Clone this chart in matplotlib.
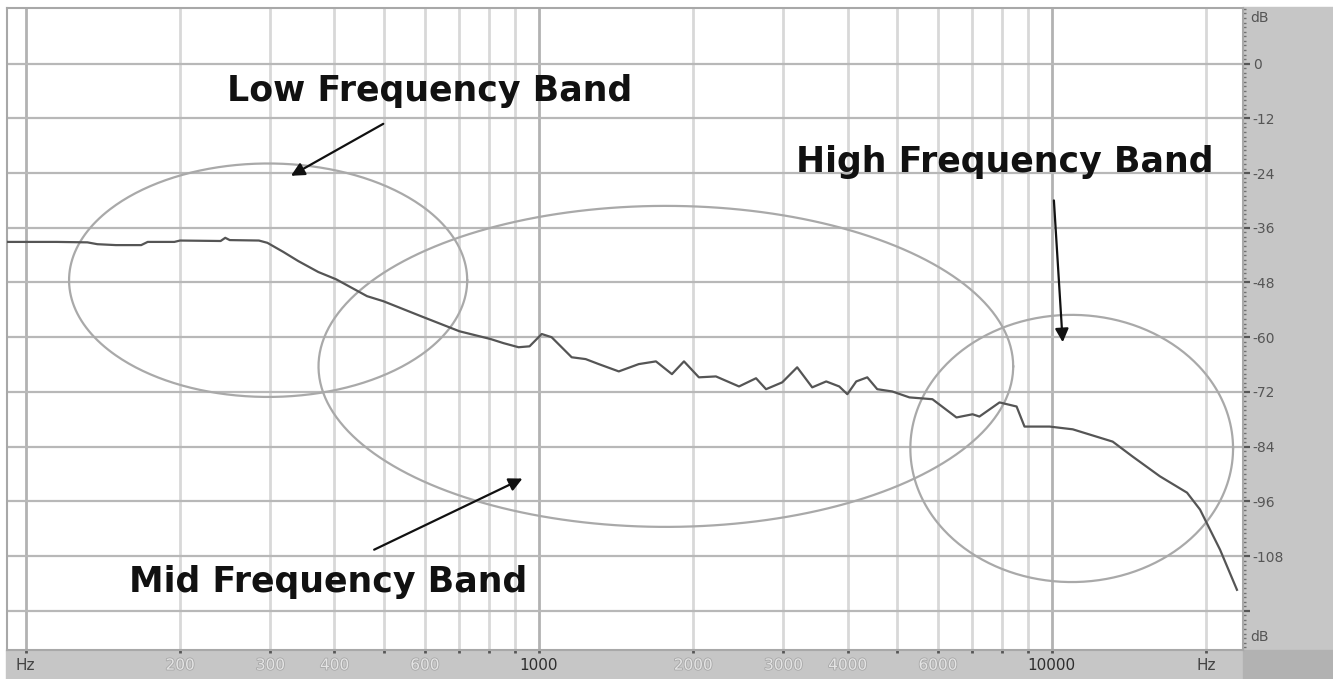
import matplotlib
matplotlib.use("Agg")
import matplotlib.pyplot as plt
import matplotlib.patheffects as pe
from matplotlib.patches import Rectangle
from matplotlib.ticker import MultipleLocator, FixedLocator, NullFormatter
import numpy as np

# spectrum curve (Hz, dB)
freq_hz = [92, 100, 115, 132, 138, 150, 168, 173, 195, 200, 240, 245, 250,
           285, 296, 318, 340, 372, 403, 463, 498, 590, 701, 806, 854, 914,
           960, 1014, 1060, 1160, 1235, 1310, 1433, 1567, 1693, 1819, 1920,
           2053, 2216, 2458, 2653, 2775, 2984, 3191, 3414, 3635, 3854, 3997,
           4160, 4371, 4571, 4890, 5281, 5855, 6523, 7011, 7230, 7914, 8543,
           8852, 9910, 10990, 13150, 14390, 16250, 18360, 19460, 21290, 22970]
level_db = [-39.1, -39.1, -39.1, -39.2, -39.6, -39.8, -39.8, -39.1, -39.1,
            -38.8, -38.9, -38.2, -38.7, -38.8, -39.3, -41.3, -43.3, -45.7,
            -47.3, -51.0, -52.1, -55.4, -58.7, -60.4, -61.3, -62.2, -62.0,
            -59.3, -60.0, -64.4, -64.8, -65.9, -67.5, -65.9, -65.3, -68.1,
            -65.3, -68.8, -68.6, -70.8, -69.0, -71.4, -69.9, -66.6, -71.0,
            -69.7, -70.8, -72.5, -69.7, -68.8, -71.4, -71.9, -73.2, -73.6,
            -77.6, -76.9, -77.4, -74.3, -75.2, -79.6, -79.6, -80.2, -82.9,
            -86.2, -90.5, -94.1, -97.8, -106.6, -115.4]

# band annotations
band_names = ["Low Frequency Band", "Mid Frequency Band", "High Frequency Band"]
label_hz = [612, 388, 8094]
label_db = [-8.1, -115.8, -23.7]
arrow_tail_hz = [498, 478, 10100]
arrow_tail_db = [-13.2, -106.6, -30.0]
arrow_head_hz = [329, 930, 10508]
arrow_head_db = [-24.6, -91.0, -61.1]
ell_center_hz = [297, 1770, 10940]
ell_center_db = [-47.5, -66.4, -84.4]
ell_half_decades = [0.388, 0.677, 0.3145]
ell_half_db = [25.6, 35.2, 29.3]

# axis ticks
grid_hz = [100, 200, 300, 400, 500, 600, 700, 800, 900, 1000, 2000, 3000,
           4000, 5000, 6000, 7000, 8000, 9000, 10000, 20000]
xtick_hz = [100, 200, 300, 400, 600, 1000, 2000, 3000, 4000, 6000, 10000, 20000]
xtick_labels = ["Hz", "200", "300", "400", "600", "1000", "2000", "3000",
                "4000", "6000", "10000", "Hz"]
ytick_db = [0, -12, -24, -36, -48, -60, -72, -84, -96, -108, -120]
ytick_labels = ["0", "-12", "-24", "-36", "-48", "-60", "-72", "-84", "-96",
                "-108", ""]

W, H = 1333, 679
fig = plt.figure(figsize=(W / 100, H / 100), dpi=100, facecolor="white")

# grey panels of the analyser window (behind the axes)
band = "#c6c6c6"
fig.patches.append(Rectangle((6 / W, 0), (1243 - 6) / W, 29 / H,
                             transform=fig.transFigure, color=band, zorder=-5))
fig.patches.append(Rectangle((1243 / W, 29 / H), 90 / W, (H - 29 - 7) / H,
                             transform=fig.transFigure, color=band, zorder=-5))
fig.patches.append(Rectangle((1243 / W, 0), 90 / W, 29 / H,
                             transform=fig.transFigure, color="#b2b2b2", zorder=-5))

ax = fig.add_axes([7 / W, 29 / H, (1243 - 7) / W, (650 - 8) / H])
ax.set_xscale("log")
ax.set_xlim(92, 23600)
ax.set_ylim(-128.6, 12.2)
ax.set_facecolor("white")

for hz in grid_hz:
    strong = hz in (100, 1000, 10000)
    ax.axvline(hz, color="#b2b2b2" if strong else "#d8d8d8",
               lw=2.0, zorder=1)
for db in ytick_db:
    ax.axhline(db, color="#b8b8b8", lw=1.6, zorder=1)

# ellipses drawn in log-frequency space
t = np.linspace(0, 2 * np.pi, 400)
for c_hz, c_db, a, b in zip(ell_center_hz, ell_center_db, ell_half_decades, ell_half_db):
    ex = 10 ** (np.log10(c_hz) + a * np.cos(t))
    ey = c_db + b * np.sin(t)
    ax.plot(ex, ey, color="#a9a9a9", lw=1.6, zorder=2)

ax.plot(freq_hz, level_db, color="#555555", lw=1.6, zorder=3)

for name, lx, ly, tx, ty, hx, hy in zip(band_names, label_hz, label_db,
                                       arrow_tail_hz, arrow_tail_db,
                                       arrow_head_hz, arrow_head_db):
    ax.text(lx, ly, name, ha="center", va="baseline", fontsize=25,
            fontweight="bold", family="DejaVu Sans", color="#111111", zorder=5)
    ax.annotate("", xy=(hx, hy), xytext=(tx, ty),
                arrowprops=dict(arrowstyle="-|>", color="#111111", lw=1.6,
                                mutation_scale=20, shrinkA=0, shrinkB=0),
                zorder=5)

# x axis (bottom band)
ax.xaxis.set_major_locator(FixedLocator(xtick_hz))
ax.xaxis.set_minor_locator(FixedLocator(grid_hz))
ax.xaxis.set_minor_formatter(NullFormatter())
ax.set_xticklabels(xtick_labels)
ax.tick_params(axis="x", which="both", direction="out", length=2.5, width=2,
               color="#555555", pad=3, labelsize=11)
for lab, hz in zip(ax.get_xticklabels(), xtick_hz):
    if hz in (100, 20000):
        lab.set_color("#444444")
    elif hz in (1000, 10000):
        lab.set_color("#2e2e2e")
    else:
        lab.set_color("#e4e4e4")
        lab.set_path_effects([pe.withStroke(linewidth=1.2, foreground="#a8a8a8")])

# y axis (right band)
ax.yaxis.tick_right()
ax.yaxis.set_major_locator(FixedLocator(ytick_db))
ax.set_yticklabels(ytick_labels)
ax.yaxis.set_minor_locator(MultipleLocator(1))
ax.tick_params(axis="y", which="major", direction="out", length=5, width=1.6,
               color="#555555", pad=2, labelsize=10, labelcolor="#555555")
ax.tick_params(axis="y", which="minor", direction="out", length=2.5, width=1,
               color="#707070")
ax.text(1.006, 0.985, "dB", transform=ax.transAxes, ha="left", va="center",
        fontsize=10, color="#555555")
ax.text(1.006, 0.02, "dB", transform=ax.transAxes, ha="left", va="center",
        fontsize=10, color="#555555")

for s in ax.spines.values():
    s.set_color("#a8a8a8")
    s.set_linewidth(1.5)

fig.savefig("out.png", dpi=100, facecolor="white")
